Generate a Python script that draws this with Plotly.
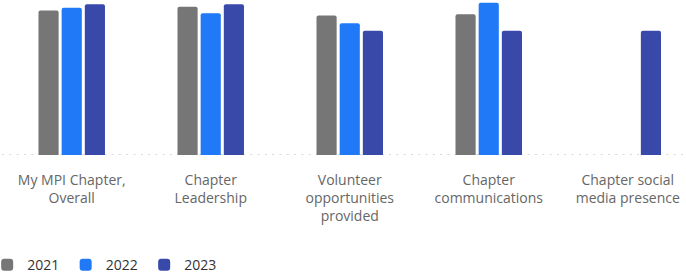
import plotly.graph_objects as go

categories = [
    "My MPI Chapter,<br>Overall",
    "Chapter<br>Leadership",
    "Volunteer<br>opportunities<br>provided",
    "Chapter<br>communications",
    "Chapter social<br>media presence",
]
series_names = ["2021", "2022", "2023"]
values_2021 = [93.2, 95.6, 90.0, 90.8, None]
values_2022 = [95.0, 91.5, 85.0, 98.2, None]
values_2023 = [97.3, 97.3, 80.1, 80.1, 80.1]
colors = ["#767676", "#2079f6", "#3949aa"]

fig = go.Figure()
for name, vals, col in zip(series_names, [values_2021, values_2022, values_2023], colors):
    fig.add_trace(go.Bar(
        x=categories, y=vals, name=name,
        marker=dict(color=col, line=dict(width=0)),
        hoverinfo="skip",
    ))

fig.add_shape(type="line", xref="paper", yref="y", x0=0.003, x1=1, y0=0, y1=0,
              line=dict(color="#d9d9d9", width=2, dash="2px,5.3px"), layer="below")

fig.update_layout(
    width=686, height=280,
    margin=dict(l=0, r=0, t=0, b=125, autoexpand=False),
    paper_bgcolor="white", plot_bgcolor="white",
    barmode="group", bargap=0.5, bargroupgap=0.13,
    barcornerradius=2,
    font=dict(family="Open Sans", size=14, color="#666666"),
    xaxis=dict(range=[-0.516, 4.419], showgrid=False, zeroline=False, showline=False,
               ticks="", tickfont=dict(size=14, color="#666666"), fixedrange=True,
               automargin=False, ticklabelstandoff=15),
    yaxis=dict(range=[0, 100], visible=False, fixedrange=True, automargin=False),
    showlegend=True,
    legend=dict(orientation="h", x=-0.0187, xanchor="left", y=-0.71, yanchor="middle",
                font=dict(size=14, color="#333333"), itemclick=False,
                traceorder="normal", itemwidth=30, entrywidth=33.5, entrywidthmode="pixels"),
)

fig.write_html("out.html", config={"displayModeBar": False},
               post_script="document.body.style.margin='0';")
